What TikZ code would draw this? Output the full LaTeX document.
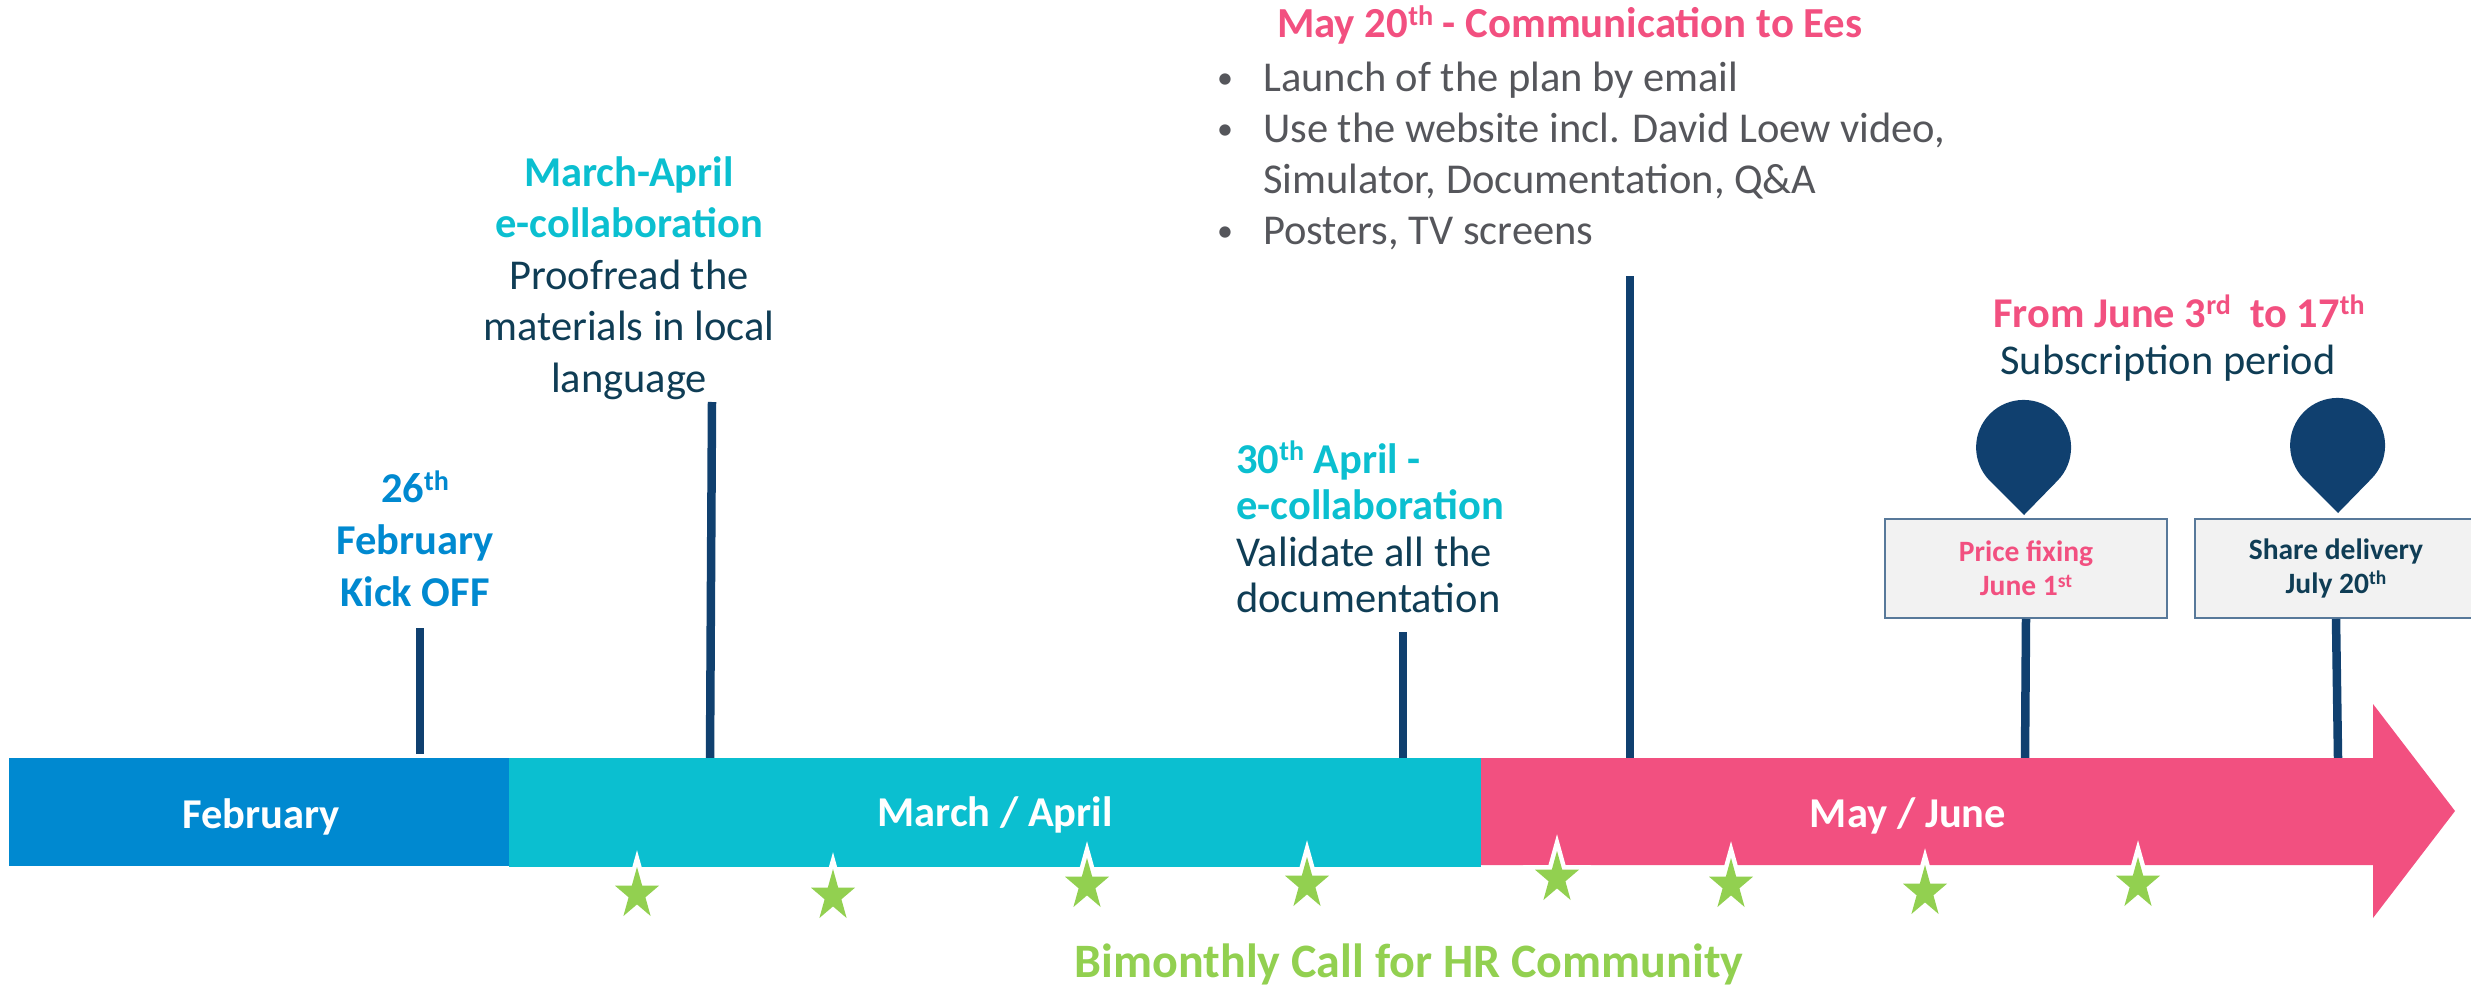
\documentclass[tikz,border=0pt]{standalone}
\usepackage{fontspec}
\usepackage{graphicx}
\usetikzlibrary{calc}
\setmainfont{Carlito}
\definecolor{cblue}{HTML}{0089D0}
\definecolor{cteal}{HTML}{0BBFD0}
\definecolor{cpink}{HTML}{F25080}
\definecolor{cnavy}{HTML}{10406F}
\definecolor{cgreen}{HTML}{92D050}
\definecolor{cdark}{HTML}{0F3D55}
\definecolor{cgrey}{HTML}{55565B}
\newcommand{\sz}[2]{\fontsize{#1}{#2}\selectfont}
\newcommand{\supr}[1]{\raisebox{.29em}{\scalebox{.66}{#1}}}
\newcommand{\starat}[2]{% x, tip y
  \path[shift={(#1,#2)},fill=cgreen,preaction={draw=white,line width=9pt,miter limit=10,line join=miter}]
    (0,0) -- (5.2,18.7) -- (22,18.7) -- (8.4,30.3) -- (13.6,49) -- (0,37.4)
    -- (-13.6,49) -- (-8.4,30.3) -- (-22,18.7) -- (-5.2,18.7) -- cycle;}
\newcommand{\bul}{\makebox[48pt][l]{\hspace*{2pt}\raisebox{3pt}{\sz{32}{32}•}}}
\tikzset{
  x=1pt,y=-1pt,
  barseg/.style={draw=none,inner sep=0pt,text=white,font=\bfseries\sz{42.5}{50}},
  stem/.style={draw=cnavy,line width=8.5pt},
  txt/.style={inner sep=0pt,font=\sz{42.5}{52}},
  pricebox/.style={draw=cnavy!70!white,fill=black!5,line width=2pt,inner sep=0pt,anchor=north west,font=\bfseries\sz{29.5}{34},align=center},
}
\begin{document}
\begin{tikzpicture}
\useasboundingbox (0,0) rectangle (2471,987);
\clip (0,0) rectangle (2471,987);
% stems
\coordinate (s1t) at (420,628); \coordinate (s1b) at (420,754);
\coordinate (s2t) at (712,402); \coordinate (s2b) at (710,758);
\coordinate (s3t) at (1403,632); \coordinate (s3b) at (1403,758);
\coordinate (s4t) at (1630,276); \coordinate (s4b) at (1630,758);
\draw[stem] (s1t) -- (s1b);
\draw[stem] (s2t) -- (s2b);
\draw[stem] (s3t) -- (s3b);
\draw[stem] (s4t) -- (s4b);
% boxes
\node[pricebox,minimum width=282pt,minimum height=99pt,text=cpink] (b1) at (1884,518) {Price fixing\\June 1\supr{st}};
\node[pricebox,minimum width=282pt,minimum height=99pt,text=cdark] (b2) at (2194,518) {Share delivery\\July 20\supr{th}};
\coordinate (s5b) at (2025,758); \coordinate (s6b) at (2338,758);
\draw[stem] (b1.south) -- (s5b);
\draw[stem] (b2.south) -- (s6b);
% bar
\node[barseg,fill=cblue,minimum width=500pt,minimum height=108pt,anchor=north west] (feb) at (9,758) {};
\node[barseg,fill=cteal,minimum width=972pt,minimum height=109pt,anchor=north west] (mar) at (509,758) {};
\fill[cpink] (1481,758) -- (2373,758) -- (2373,704) -- (2455,811) -- (2373,918) -- (2373,865) -- (1481,865) -- cycle;
\node[barseg] (feblbl) at (261,817) {February};
\node[barseg] (marlbl) at (995,815) {March / April};
\node[barseg] (may) at (1908,816) {May / June};
% pins
\coordinate (p1) at (2024,448); \coordinate (p2) at (2338,446);
\fill[cnavy] ($(p1)+(0,67)$) -- ($(p1)+(-34,33)$) arc[start angle=135,end angle=405,radius=47.5] -- cycle;
\fill[cnavy] ($(p2)+(0,67)$) -- ($(p2)+(-34,33)$) arc[start angle=135,end angle=405,radius=47.5] -- cycle;
% stars
\starat{637}{867}
\starat{833}{869}
\starat{1087}{858}
\starat{1307}{857}
\starat{1557}{851}
\starat{1731}{858}
\starat{1925}{865}
\starat{2138}{857}
% texts
\node[txt,align=center,text=cblue,font=\bfseries\sz{42.5}{52}] (t1) at (415,539) {26\supr{th}\\February\\Kick OFF};
\node[txt,align=center,text=cdark,font=\sz{42.5}{51.5}] (t2) at (629,278) {\textcolor{cteal}{\bfseries March-April}\\\textcolor{cteal}{\bfseries e-collaboration}\\Proofread the\\materials in local\\language};
\node[txt,align=left,text=cdark,anchor=west,font=\sz{42.5}{46.5}] (t3) at (1236,527) {\textcolor{cteal}{\bfseries 30\supr{th} April -}\\\textcolor{cteal}{\bfseries e-collaboration}\\Validate all the\\documentation};
\node[txt,text=cpink,font=\bfseries\sz{42.8}{52},anchor=base west] (t4) at (1277,38) {May 20\supr{th} - Communication to Ees};
\node[txt,text=cgrey,align=left,anchor=west,font=\sz{42.5}{51}] (t5) at (1215,156) {\bul Launch of the plan by email\\\bul Use the website incl. David Loew video,\\\hspace*{48pt}Simulator, Documentation, Q\&A\\\bul Posters, TV screens};
\node[txt,align=center,text=cdark,font=\sz{42.4}{47}] (t6) at (2179,338) {\textcolor{cpink}{\bfseries From June 3\supr{rd}\ \ to 17\supr{th}}\\Subscription period\kern22pt};
\node[txt,text=cgreen,font=\bfseries\sz{48}{54},anchor=base] (t7) at (1409,977.5) {Bimonthly Call for HR Community};
\end{tikzpicture}
\end{document}
